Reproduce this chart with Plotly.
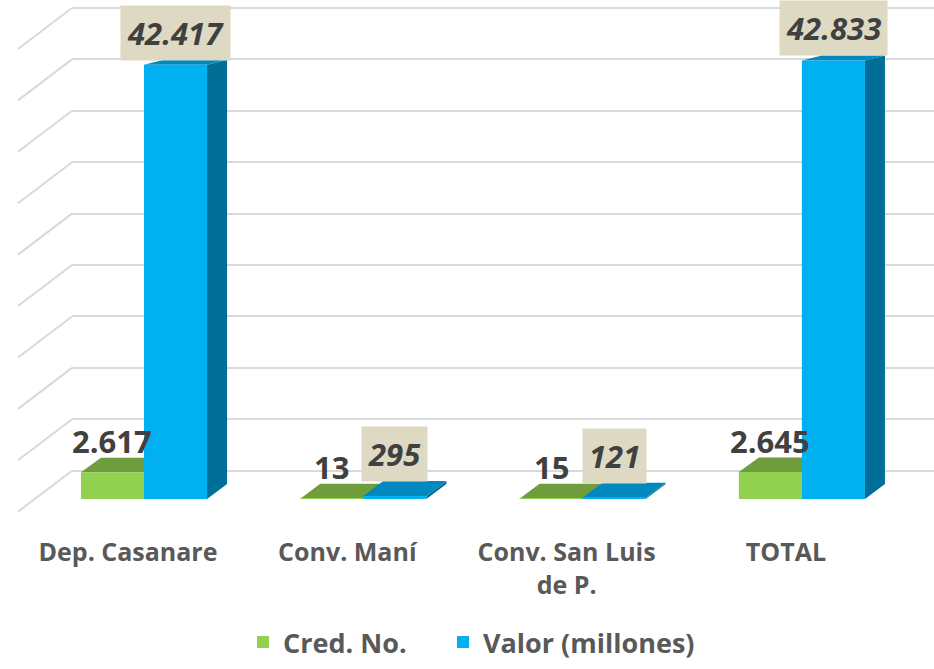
import plotly.graph_objects as go

# ---------------- data ----------------
categories = ["Dep. Casanare", "Conv. Maní", "Conv. San Luis<br>de P.", "TOTAL"]
cred_no = [2617, 13, 15, 2645]
valor_millones = [42417, 295, 121, 42833]
grid_values = list(range(0, 45001, 5000))
series_names = ["Cred. No.", "Valor (millones)"]

# ---------------- styling / geometry ----------------
W, H = 934, 669
PLOT_L, PLOT_R, PLOT_T, PLOT_B = 72, 934, 5, 520
FLOOR_PX = 499                      # front floor line (bars' base)
PX_PER_UNIT = 0.01024               # value scale of bar fronts
Y_MIN = -(PLOT_B - FLOOR_PX) / PX_PER_UNIT
Y_MAX = (FLOOR_PX - PLOT_T) / PX_PER_UNIT

X_PX_PER_CAT = 219.3
FIRST_CAT_PX = 144
X_MIN = (PLOT_L - FIRST_CAT_PX) / X_PX_PER_CAT
X_MAX = (PLOT_R - FIRST_CAT_PX) / X_PX_PER_CAT
BARGAP = 0.425
BAR_W = (1 - BARGAP) / 2

# back-wall gridlines (3D projection of value grid)
WALL_FLOOR_PX = 470.7
WALL_TOP_PX = 8.0
WALL_PX_PER_UNIT = (WALL_FLOOR_PX - WALL_TOP_PX) / max(grid_values)
grid_main = [(FLOOR_PX - (WALL_FLOOR_PX - g * WALL_PX_PER_UNIT)) / PX_PER_UNIT
             for g in grid_values]

DX_PX = 20
DY_BOTTOM_PX, DY_TOP_PX, DY_REF_H = 15, 5, 434
DX_U = DX_PX / X_PX_PER_CAT


def depth_px(v):
    h = v * PX_PER_UNIT
    return DY_BOTTOM_PX - (DY_BOTTOM_PX - DY_TOP_PX) * h / DY_REF_H


GREEN, GREEN_TOP, GREEN_SIDE = "#92D050", "#6F9C3C", "#5E8A30"
BLUE, BLUE_TOP, BLUE_SIDE = "#00B0F0", "#0088BF", "#006F98"
GRID = "#D9D9D9"
LABEL_BG = "#DDD9C3"
TXT_DARK = "#404040"
TXT_AXIS = "#595959"
FONT = "Open Sans"


def fmt(v):
    return f"{v:,}".replace(",", ".")


x_pos = list(range(len(categories)))

fig = go.Figure()
fig.add_trace(go.Bar(x=x_pos, y=cred_no, name=series_names[0], legendwidth=155,
                     marker=dict(color=GREEN, line=dict(width=0))))
fig.add_trace(go.Bar(x=x_pos, y=valor_millones, name=series_names[1],
                     marker=dict(color=BLUE, line=dict(width=0))))

shapes = []
# slanted floor/side-wall parts of gridlines
for gv in grid_main:
    shapes.append(dict(type="line", xref="paper", xsizemode="pixel", xanchor=0,
                       x0=-54, x1=0, yref="y", ysizemode="pixel", yanchor=gv,
                       y0=-41, y1=0, line=dict(color=GRID, width=2), layer="below"))


def faces(values, offset, top_col, side_col, with_side):
    out = []
    for i, v in enumerate(values):
        xl = i + offset - BAR_W / 2
        xr = i + offset + BAR_W / 2
        dyv = depth_px(v) / PX_PER_UNIT
        dy0 = depth_px(0) / PX_PER_UNIT
        if with_side:
            out.append(dict(type="path", xref="x", yref="y", layer="between",
                            path=f"M {xr},0 L {xr + DX_U},{dy0} L {xr + DX_U},{v + dyv} L {xr},{v} Z",
                            fillcolor=side_col, line=dict(width=0)))
        out.append(dict(type="path", xref="x", yref="y", layer="between",
                        path=f"M {xl},{v} L {xr},{v} L {xr + DX_U},{v + dyv} L {xl + DX_U},{v + dyv} Z",
                        fillcolor=top_col, line=dict(width=0)))
    return out


shapes += faces(cred_no, -BAR_W / 2, GREEN_TOP, GREEN_SIDE, False)
shapes += faces(valor_millones, BAR_W / 2, BLUE_TOP, BLUE_SIDE, True)

annotations = []
for i, v in enumerate(cred_no):
    annotations.append(dict(x=i - BAR_W / 2, y=v, xref="x", yref="y",
                            text=fmt(v), showarrow=False, yanchor="bottom",
                            yshift=depth_px(v) - 6,
                            font=dict(family=FONT, size=31, color=TXT_DARK, weight="bold")))
for i, v in enumerate(valor_millones):
    annotations.append(dict(x=i + BAR_W / 2, y=v, xref="x", yref="y",
                            text=fmt(v), showarrow=False, yanchor="bottom",
                            yshift=depth_px(v) - 1, bgcolor=LABEL_BG, borderpad=6,
                            font=dict(family=FONT, size=31, color=TXT_DARK,
                                      weight="bold", style="italic")))

fig.update_layout(
    width=W, height=H,
    margin=dict(l=PLOT_L, r=W - PLOT_R, t=PLOT_T, b=H - PLOT_B, autoexpand=False),
    paper_bgcolor="white", plot_bgcolor="white",
    barmode="group", bargap=BARGAP, bargroupgap=0,
    shapes=shapes, annotations=annotations,
    showlegend=True,
    legend=dict(orientation="h", x=(243 - PLOT_L) / (PLOT_R - PLOT_L), xanchor="left",
                y=(PLOT_B - 667) / (PLOT_B - PLOT_T), yanchor="bottom",
                font=dict(family=FONT, size=27, color=TXT_AXIS, weight="bold"),
                bgcolor="rgba(0,0,0,0)"),
    xaxis=dict(range=[X_MIN, X_MAX], tickvals=x_pos, ticktext=categories,
               showgrid=False, zeroline=False, showline=False, ticks="",
               ticklabelshift=-16, ticklabelstandoff=15,
               tickfont=dict(family=FONT, size=25, color=TXT_AXIS, weight="bold")),
    yaxis=dict(range=[Y_MIN, Y_MAX], tickvals=grid_main, showticklabels=False,
               showgrid=True, gridcolor=GRID, gridwidth=2, zeroline=False,
               showline=False, ticks=""),
    hovermode=False,
)

fig.write_html("out.html", config={"displayModeBar": False},
               post_script="document.body.style.margin='0';")
